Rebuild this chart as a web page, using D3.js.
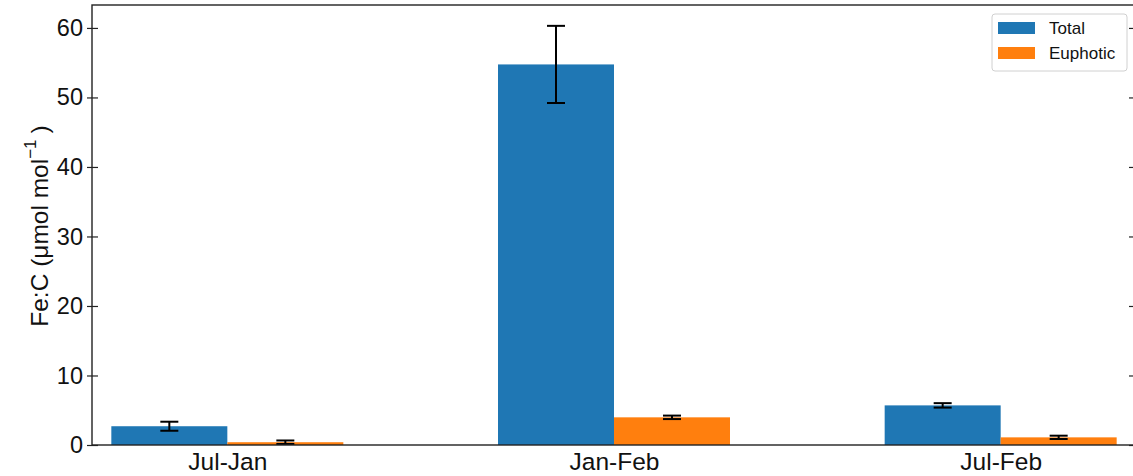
<!DOCTYPE html>
<html>
<head>
<meta charset="utf-8">
<script src="https://cdn.jsdelivr.net/npm/d3@7"></script>
<style>
  html, body { margin: 0; padding: 0; background: #fff; }
  svg { display: block; font-family: "Liberation Sans", Arial, sans-serif; }
</style>
</head>
<body>
<svg id="chart" width="1133" height="476"></svg>
<script>
// Fe:C ratios per period
const categories = ["Jul-Jan", "Jan-Feb", "Jul-Feb"];
const seriesNames = ["Total", "Euphotic"];
const totalValues = [2.7, 54.75, 5.7];
const totalErrors = [0.65, 5.55, 0.32];
const euphoticValues = [0.4, 3.98, 1.1];
const euphoticErrors = [0.25, 0.25, 0.24];
const yTicks = [0, 10, 20, 30, 40, 50, 60];
const colors = ["#1f77b4", "#ff7f0e"];

const svg = d3.select("#chart");
const plot = { left: 92, right: 1136, top: 5, bottom: 445 };

// category positions 0,1,2 with bars of width 0.3 on either side of each centre
const x = d3.scaleLinear().domain([-0.35, 2.35]).range([plot.left, plot.right]);
const y = d3.scaleLinear().domain([0, 63.3]).range([plot.bottom, plot.top]);
const barWidth = 0.3;

const series = [
  { name: seriesNames[0], values: totalValues, errors: totalErrors, offset: -barWidth / 2, color: colors[0] },
  { name: seriesNames[1], values: euphoticValues, errors: euphoticErrors, offset: barWidth / 2, color: colors[1] }
];

const bars = svg.append("g");
series.forEach(s => {
  bars.selectAll(null)
    .data(s.values)
    .enter().append("rect")
    .attr("x", (d, i) => x(i + s.offset - barWidth / 2))
    .attr("width", x(barWidth) - x(0))
    .attr("y", d => y(d))
    .attr("height", d => y(0) - y(d))
    .attr("fill", s.color);
});

// error bars with caps
const errG = svg.append("g").attr("stroke", "#000").attr("stroke-width", 2).attr("fill", "none");
const capHalf = 9;
series.forEach(s => {
  s.values.forEach((v, i) => {
    const cx = x(i + s.offset);
    const lo = y(v - s.errors[i]), hi = y(v + s.errors[i]);
    errG.append("line").attr("x1", cx).attr("x2", cx).attr("y1", lo).attr("y2", hi);
    errG.append("line").attr("x1", cx - capHalf).attr("x2", cx + capHalf).attr("y1", lo).attr("y2", lo);
    errG.append("line").attr("x1", cx - capHalf).attr("x2", cx + capHalf).attr("y1", hi).attr("y2", hi);
  });
});

// frame
svg.append("rect")
  .attr("x", plot.left).attr("y", plot.top)
  .attr("width", plot.right - plot.left).attr("height", plot.bottom - plot.top)
  .attr("fill", "none").attr("stroke", "#222").attr("stroke-width", 1.4);

// left axis: ticks crossing the spine
const yAxisLeft = d3.axisLeft(y).tickValues(yTicks).tickSize(5).tickPadding(4);
const gl = svg.append("g").attr("transform", `translate(${plot.left},0)`).call(yAxisLeft);
gl.select(".domain").remove();
gl.selectAll(".tick line").attr("x2", 6).attr("x1", -5).attr("stroke", "#222").attr("stroke-width", 1.2);
gl.selectAll(".tick text")
  .attr("font-size", 23.5).attr("fill", "#111")
  .attr("font-family", "'Liberation Sans', Arial, sans-serif")
  .attr("x", -9);

// right axis ticks
const yAxisRight = d3.axisRight(y).tickValues(yTicks).tickSize(5).tickFormat("");
const gr = svg.append("g").attr("transform", `translate(${plot.right},0)`).call(yAxisRight);
gr.select(".domain").remove();
gr.selectAll(".tick line").attr("x1", -7).attr("x2", 5).attr("stroke", "#222").attr("stroke-width", 1.2);

// category labels
const xAxis = d3.axisBottom(x).tickValues(d3.range(categories.length))
  .tickFormat(i => categories[i]).tickSize(0).tickPadding(8);
const gx = svg.append("g").attr("transform", `translate(0,${plot.bottom})`).call(xAxis);
gx.select(".domain").remove();
gx.selectAll(".tick text")
  .attr("font-size", 24.5).attr("fill", "#111")
  .attr("font-family", "'Liberation Sans', Arial, sans-serif");

// y axis title
const yTitle = svg.append("text")
  .attr("transform", `translate(48,${(plot.top + plot.bottom) / 2 + 1}) rotate(-90)`)
  .attr("text-anchor", "middle")
  .attr("font-size", 24.5).attr("fill", "#111");
yTitle.append("tspan").text("Fe:C (μmol mol");
yTitle.append("tspan").attr("font-size", 17).attr("dy", -12).text("−1");
yTitle.append("tspan").attr("dy", 12).attr("dx", 6).text(")");

// legend
const legend = svg.append("g");
legend.append("rect")
  .attr("x", 992).attr("y", 14).attr("width", 135).attr("height", 57)
  .attr("rx", 3).attr("fill", "#fff").attr("fill-opacity", 0.8)
  .attr("stroke", "#d0d0d0").attr("stroke-width", 1);
series.forEach((s, i) => {
  const top = 22 + i * 25;
  legend.append("rect").attr("x", 998).attr("y", top).attr("width", 37).attr("height", 12).attr("fill", s.color);
  legend.append("text").attr("x", 1049).attr("y", top + 12)
    .attr("font-size", 17).attr("fill", "#111").text(s.name);
});
</script>
</body>
</html>
